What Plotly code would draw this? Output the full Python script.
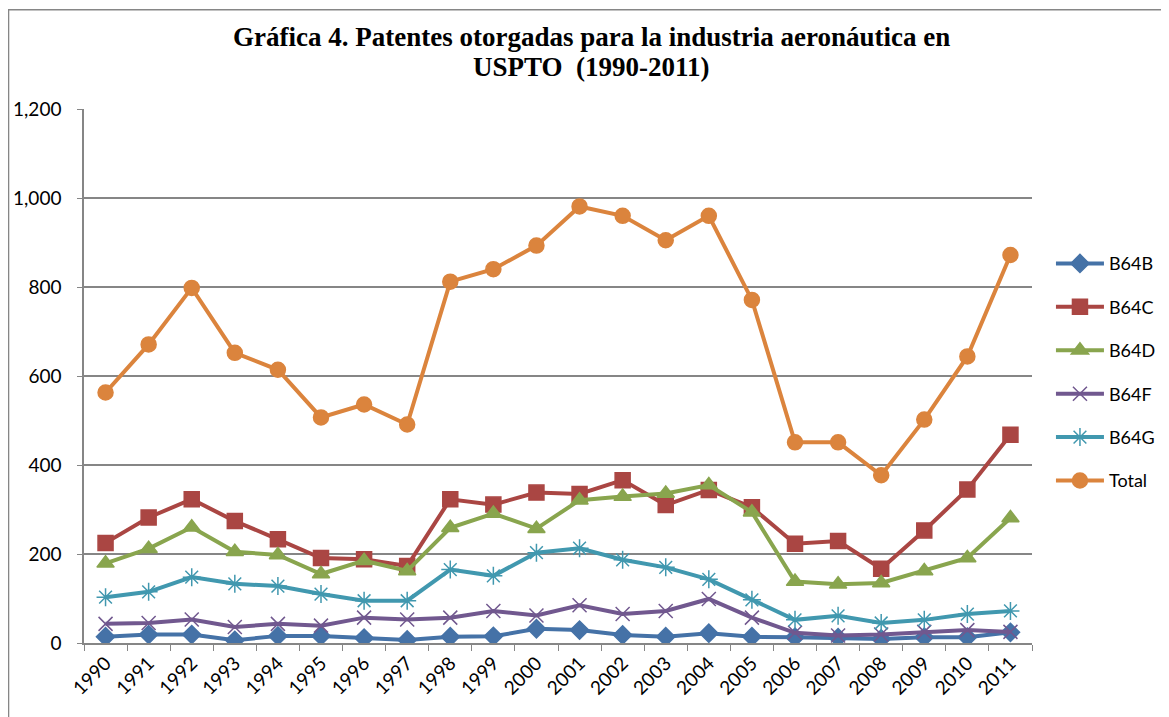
import plotly.graph_objects as go

years = [str(y) for y in range(1990, 2012)]

b64b = [14, 19, 19, 6, 16, 16, 11, 7, 14, 15, 32, 29, 18, 14, 22, 14, 13, 12, 9, 13, 13, 24]
b64c = [225, 282, 323, 274, 233, 191, 188, 173, 323, 311, 338, 335, 366, 310, 344, 305, 223, 229, 167, 253, 345, 468]
b64d = [179, 212, 260, 205, 198, 155, 185, 162, 259, 291, 257, 321, 329, 336, 355, 294, 138, 132, 135, 162, 191, 281]
b64f = [43, 45, 53, 36, 43, 39, 57, 53, 57, 72, 62, 85, 65, 72, 99, 57, 23, 17, 19, 25, 29, 25]
b64g = [103, 115, 148, 133, 128, 110, 95, 95, 165, 151, 203, 213, 187, 170, 143, 97, 52, 61, 45, 52, 65, 72]
total = [563, 671, 798, 652, 614, 507, 536, 491, 812, 840, 893, 981, 960, 905, 960, 771, 451, 451, 377, 502, 644, 872]

title_lines = [
    "Gráfica 4. Patentes otorgadas para la industria aeronáutica en",
    "USPTO  (1990-2011)",
]

series = [
    ("B64B", b64b, "#4572A7", "diamond", 14),
    ("B64C", b64c, "#AA4643", "square", 15),
    ("B64D", b64d, "#89A54E", "triangle-up", 15),
    ("B64F", b64f, "#71588F", "x-thin-open", 14),
    ("B64G", b64g, "#4198AF", "asterisk-open", 15),
    ("Total", total, "#DB843D", "circle", 15),
]

fig = go.Figure()
for name, vals, color, symbol, size in series:
    fig.add_trace(
        go.Scatter(
            x=years,
            y=vals,
            name=name,
            mode="lines+markers",
            line=dict(color=color, width=4),
            marker=dict(symbol=symbol, size=size, color=color,
                        line=dict(color=color, width=1.5)),
            legendgroup=name,
        )
    )

# title as two annotations so the line spacing can be matched
title_font = dict(family="Liberation Serif", size=27, color="black", weight="bold")
annotations = [
    dict(text=t, xref="paper", yref="paper", x=0.535, y=y,
         xanchor="center", yanchor="middle", showarrow=False, font=title_font)
    for t, y in zip(title_lines, [1.135, 1.079])
]

fig.update_layout(
    width=1161,
    height=709,
    paper_bgcolor="white",
    plot_bgcolor="white",
    margin=dict(l=76, r=137, t=101, b=74, autoexpand=False),
    annotations=annotations,
    legend=dict(
        x=1.020, y=0.507, yanchor="middle", xanchor="left",
        font=dict(family="Lato", size=18, color="black"),
        tracegroupgap=17,
        itemwidth=48,
    ),
    font=dict(family="Lato", size=18, color="black"),
    shapes=[
        dict(type="rect", xref="paper", yref="paper",
             x0=-0.0796, x1=1.25, y0=-0.3, y1=1.186,
             line=dict(color="#868686", width=1.5), fillcolor="rgba(0,0,0,0)"),
    ],
)
fig.update_xaxes(
    type="category",
    range=[-0.5, 21.5],
    tickangle=-45,
    ticks="outside",
    tickson="boundaries",
    ticklen=6,
    tickcolor="#868686",
    showline=True,
    linecolor="#868686",
    linewidth=1.5,
    showgrid=False,
    tickfont=dict(family="Lato", size=19),
)
fig.update_yaxes(
    range=[0, 1200],
    dtick=200,
    tickformat=",",
    ticks="outside",
    ticklen=5,
    tickcolor="#868686",
    showline=True,
    linecolor="#868686",
    linewidth=1.5,
    showgrid=True,
    gridcolor="#868686",
    gridwidth=1.5,
    zeroline=False,
    ticklabelstandoff=12,
    tickfont=dict(family="Lato", size=19),
)

fig.write_html("out.html")
